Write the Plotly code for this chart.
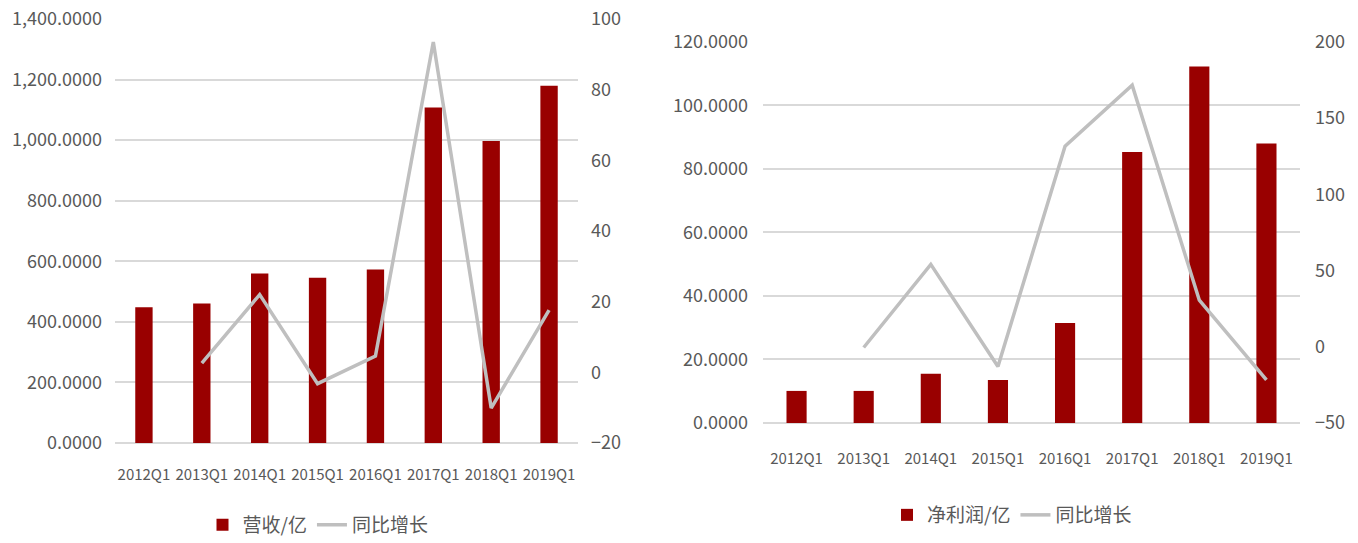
import plotly.graph_objects as go

quarters = ["2012Q1", "2013Q1", "2014Q1", "2015Q1", "2016Q1", "2017Q1", "2018Q1", "2019Q1"]
revenue = [448, 461, 560, 546, 573, 1108, 997, 1180]
revenue_yoy = [None, 2.6, 22.0, -3.2, 4.6, 93.5, -10.1, 17.6]
profit = [10.1, 10.1, 15.5, 13.5, 31.5, 85.3, 112.2, 88.0]
profit_yoy = [None, -0.5, 54.0, -13.0, 131.5, 171.5, 30.5, -21.8]

BAR = "#990000"
LINE = "#bfbfbf"
GRID = "#d9d9d9"
TXT = "#595959"
FAM = "Noto Sans CJK SC, Noto Sans, sans-serif"
XFONT = dict(family=FAM, size=15, color=TXT)
YFONT = dict(family=FAM, size=18, color=TXT)
LEGFONT = dict(family=FAM, size=19, color=TXT)

fig = go.Figure()
fig.add_trace(go.Bar(x=quarters, y=revenue, name="营收/亿", marker_color=BAR,
                     xaxis="x", yaxis="y", legend="legend"))
fig.add_trace(go.Scatter(x=quarters, y=revenue_yoy, name="同比增长", mode="lines",
                         line=dict(color=LINE, width=3.5), xaxis="x", yaxis="y2", legend="legend"))
fig.add_trace(go.Bar(x=quarters, y=profit, name="净利润/亿", marker_color=BAR,
                     xaxis="x2", yaxis="y3", legend="legend2"))
fig.add_trace(go.Scatter(x=quarters, y=profit_yoy, name="同比增长", mode="lines",
                         line=dict(color=LINE, width=3.5), xaxis="x2", yaxis="y4", legend="legend2"))

W, H = 1358, 543


def px_x(p):
    return p / W


def px_y(p):
    return 1 - p / H


xl = [px_x(115), px_x(578)]
yl = [px_y(443), px_y(19)]
xr = [px_x(763), px_x(1300)]
yr = [px_y(423), px_y(41.7)]

common_x = dict(showgrid=False, showline=False, zeroline=False, ticks="", tickangle=0,
                tickfont=XFONT, automargin=False)

fig.update_layout(
    width=W, height=H,
    margin=dict(l=0, r=0, t=0, b=0, autoexpand=False),
    paper_bgcolor="white", plot_bgcolor="white",
    bargap=0.7,
    xaxis=dict(domain=xl, anchor="y", ticklabelstandoff=21, **common_x),
    yaxis=dict(domain=yl, anchor="x", range=[0, 1400], dtick=200, tickformat=",.4f",
               showgrid=True, gridcolor=GRID, gridwidth=1.5, zeroline=True,
               zerolinecolor=GRID, zerolinewidth=1.5, showline=False,
               tickfont=YFONT, ticklabelstandoff=12, automargin=False),
    yaxis2=dict(domain=yl, anchor="x", overlaying="y", side="right", range=[-20, 100],
                dtick=20, showgrid=False, zeroline=False, showline=False,
                tickfont=YFONT, ticklabelstandoff=12, automargin=False),
    xaxis2=dict(domain=xr, anchor="y3", ticklabelstandoff=25, **common_x),
    yaxis3=dict(domain=yr, anchor="x2", range=[0, 120], dtick=20, tickformat=".4f",
                showgrid=True, gridcolor=GRID, gridwidth=1.5, zeroline=True,
                zerolinecolor=GRID, zerolinewidth=1.5, showline=False,
                tickfont=YFONT, ticklabelstandoff=14, automargin=False),
    yaxis4=dict(domain=yr, anchor="x2", overlaying="y3", side="right", range=[-50, 200],
                dtick=50, showgrid=False, zeroline=False, showline=False,
                tickfont=YFONT, ticklabelstandoff=14, automargin=False),
    legend=dict(orientation="h", x=px_x(318), xanchor="center", y=px_y(525), yanchor="middle",
                font=LEGFONT, bgcolor="rgba(0,0,0,0)"),
    legend2=dict(orientation="h", x=px_x(1012), xanchor="center", y=px_y(515), yanchor="middle",
                 font=LEGFONT, bgcolor="rgba(0,0,0,0)"),
)
fig.update_traces(selector=dict(type="bar"), marker_line_width=0)
fig.layout.barmode = "group"

fig.write_html("out.html", config={"displayModeBar": False},
               post_script="document.body.style.margin='0px';")
